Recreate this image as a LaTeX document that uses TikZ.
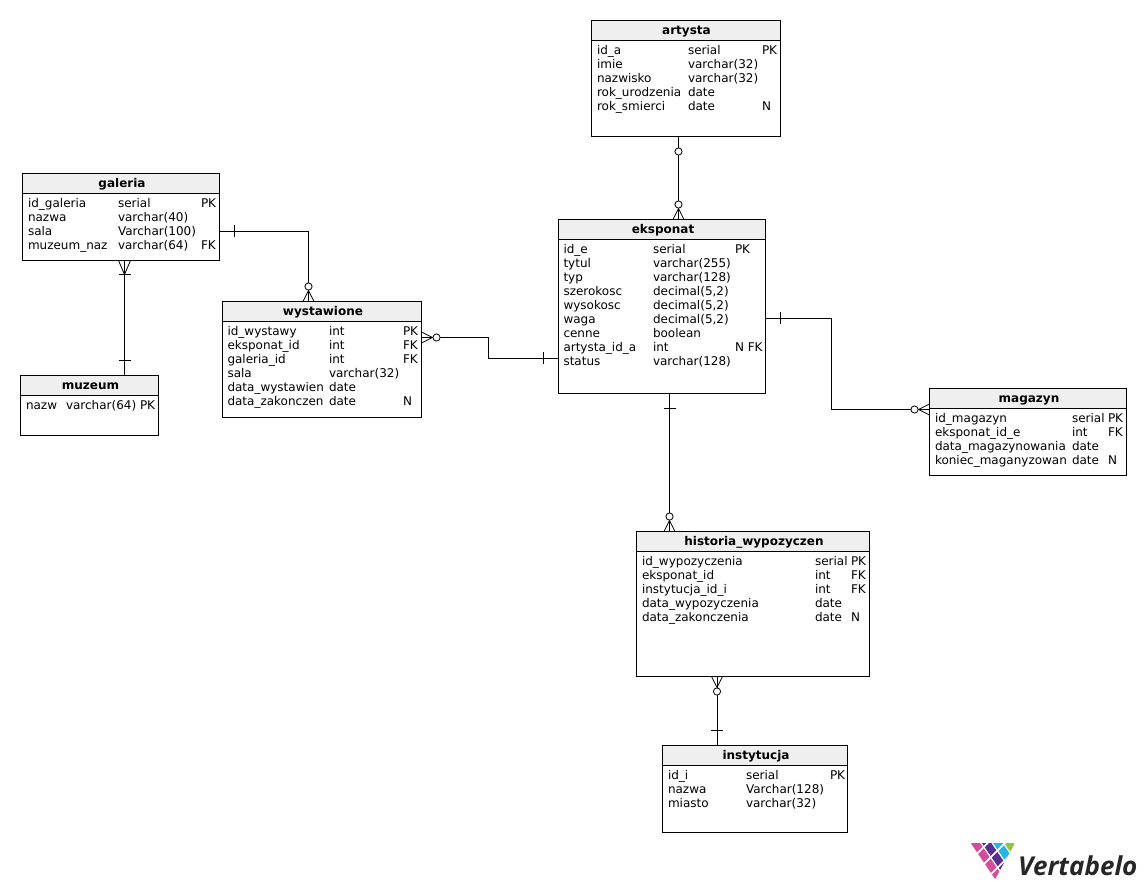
\documentclass[tikz,border=0pt]{standalone}
\usepackage{fontspec}
\setmainfont{DejaVu Sans}
\newfontfamily\logofont{Open Sans}
\definecolor{headgray}{HTML}{EFEFEF}
\definecolor{lpink}{HTML}{CF4F9B}
\definecolor{lpurple}{HTML}{5C2D91}
\definecolor{lblue}{HTML}{27B4E8}
\definecolor{lgreen}{HTML}{8DC63F}
\tikzset{
  x=1pt,y=-1pt,
  tablebox/.style={draw=black,line width=1pt,fill=white,anchor=north west,inner sep=0pt,outer sep=0pt},
  headbox/.style={draw=black,line width=1pt,fill=headgray,anchor=north west,inner sep=0pt,outer sep=0pt,text height=9pt,text depth=1pt,font=\fontsize{12}{14}\selectfont\bfseries},
  celltext/.style={anchor=base west,inner sep=0pt,outer sep=0pt,font=\fontsize{12}{14}\selectfont},
  conn/.style={draw=black,line width=1pt},
  pics/zeromany/.style={code={
    \draw[line width=.8pt] (0,-5.5)--(11,0)--(0,5.5);
    \draw[line width=.8pt] (0,0)--(11,0);
    \draw[line width=.8pt,fill=white] (15,0) circle (3.6);
  }},
  pics/zeroone/.style={code={
    \draw[line width=.8pt,fill=white] (15,0) circle (3.6);
  }},
  pics/onebar/.style={code={
    \draw[line width=.8pt] (15,-6)--(15,6);
  }},
  pics/onemany/.style={code={
    \draw[line width=.8pt] (0,-6)--(14,0)--(0,6);
    \draw[line width=.8pt] (14,-6)--(14,6);
  }},
}
\newcommand{\etable}[9]{% name,x,y,w,h,title,c1,c2,c3
  \def\tn{#1}\def\ty{#3}\def\ca{#7}\def\cb{#8}\def\cc{#9}
  \node[tablebox,minimum width=#4pt,minimum height=#5pt] (#1) at (#2,#3) {};
  \node[headbox,minimum width=#4pt,minimum height=20pt] (#1-head) at (#2,#3) {\hspace{2pt}#6};
}
\newcommand{\cellput}[4]{\def\tmp{#4}\ifx\tmp\empty\else
  \node[celltext] (\tn-#1-#2) at (#3,\ty+34+14*#1) {#4};\fi}
\newcommand{\erow}[4]{%
  \cellput{#1}{a}{\ca}{#2}\cellput{#1}{b}{\cb}{#3}\cellput{#1}{c}{\cc}{#4}}
\begin{document}
\begin{tikzpicture}
\useasboundingbox (0,0) rectangle (1146,892);

\etable{artysta}{591}{20.5}{189}{116}{artysta}{597}{688}{762}
\erow{0}{id\_a}{serial}{PK}
\erow{1}{imie}{varchar(32)}{}
\erow{2}{nazwisko}{varchar(32)}{}
\erow{3}{rok\_urodzenia}{date}{}
\erow{4}{rok\_smierci}{date}{N}

\etable{galeria}{22.5}{173.5}{197}{87}{galeria}{28}{118}{201}
\erow{0}{id\_galeria}{serial}{PK}
\erow{1}{nazwa}{varchar(40)}{}
\erow{2}{sala}{Varchar(100)}{}
\erow{3}{muzeum\_naz}{varchar(64)}{FK}

\etable{eksponat}{558.5}{219.5}{207}{174}{eksponat}{563.5}{653}{735}
\erow{0}{id\_e}{serial}{PK}
\erow{1}{tytul}{varchar(255)}{}
\erow{2}{typ}{varchar(128)}{}
\erow{3}{szerokosc}{decimal(5,2)}{}
\erow{4}{wysokosc}{decimal(5,2)}{}
\erow{5}{waga}{decimal(5,2)}{}
\erow{6}{cenne}{boolean}{}
\erow{7}{artysta\_id\_a}{int}{N FK}
\erow{8}{status}{varchar(128)}{}

\etable{wystawione}{222.5}{301.5}{199}{116}{wystawione}{227.5}{329}{403}
\erow{0}{id\_wystawy}{int}{PK}
\erow{1}{eksponat\_id}{int}{FK}
\erow{2}{galeria\_id}{int}{FK}
\erow{3}{sala}{varchar(32)}{}
\erow{4}{data\_wystawien}{date}{}
\erow{5}{data\_zakonczen}{date}{N}

\etable{muzeum}{20.5}{375.5}{138}{60}{muzeum}{26}{66}{140}
\erow{0}{nazw}{varchar(64)}{PK}

\etable{magazyn}{929.5}{388.5}{197}{87}{magazyn}{935}{1072}{1108}
\erow{0}{id\_magazyn}{serial}{PK}
\erow{1}{eksponat\_id\_e}{int}{FK}
\erow{2}{data\_magazynowania}{date}{}
\erow{3}{koniec\_maganyzowan}{date}{N}

\etable{historia}{636.5}{531.5}{233}{145}{historia\_wypozyczen}{642}{815}{851}
\erow{0}{id\_wypozyczenia}{serial}{PK}
\erow{1}{eksponat\_id}{int}{FK}
\erow{2}{instytucja\_id\_i}{int}{FK}
\erow{3}{data\_wypozyczenia}{date}{}
\erow{4}{data\_zakonczenia}{date}{N}

\etable{instytucja}{662.5}{745.5}{185}{87}{instytucja}{668}{746}{830}
\erow{0}{id\_i}{serial}{PK}
\erow{1}{nazwa}{Varchar(128)}{}
\erow{2}{miasto}{varchar(32)}{}

% connectors
\draw[conn] ([xshift=-7pt]artysta.south) coordinate (a1) -- (a1 |- eksponat.north) coordinate (a2);
\pic[rotate=-90] at (a1) {zeroone};
\pic[rotate=90] at (a2) {zeromany};

\path (galeria.east) ++(0,14) coordinate (b1);
\draw[conn] (b1) -| ([xshift=-13.5pt]wystawione.north) coordinate (b2);
\pic at (b1) {onebar};
\pic[rotate=90] at (b2) {zeromany};

\path ([xshift=3.5pt]galeria.south) coordinate (c1);
\draw[conn] (c1) -- (c1 |- muzeum.north) coordinate (c2);
\pic[rotate=-90] at (c1) {onemany};
\pic[rotate=90] at (c2) {onebar};

\path (wystawione.east) ++(0,-22) coordinate (d1);
\path (eksponat.west) ++(0,51.5) coordinate (d2);
\draw[conn] (d1) -- (488.5,337.5) -- (488.5,358) -- (d2);
\pic at (d1) {zeromany};
\pic[rotate=180] at (d2) {onebar};

\path (eksponat.east) ++(0,11.5) coordinate (e1);
\path (magazyn.west) ++(0,-22.5) coordinate (e2);
\draw[conn] (e1) -- (831.5,318) -- (831.5,409.5) -- (e2);
\pic at (e1) {onebar};
\pic[rotate=180] at (e2) {zeromany};

\path ([xshift=7.5pt]eksponat.south) coordinate (f1);
\draw[conn] (f1) -- (f1 |- historia.north) coordinate (f2);
\pic[rotate=-90] at (f1) {onebar};
\pic[rotate=90] at (f2) {zeromany};

\path ([xshift=-36pt]historia.south) coordinate (g1);
\draw[conn] (g1) -- (g1 |- instytucja.north) coordinate (g2);
\pic[rotate=-90] at (g1) {zeromany};
\pic[rotate=90] at (g2) {onebar};

% logo
\begin{scope}
  \clip (970,843) -- (1015,843) -- (993.5,882) -- cycle;
  \begin{scope}[shift={(970,843.3)}]
  \begin{scope}[x={(7pt,-10.33pt)},y={(6.67pt,6.67pt)}]
    \foreach \u/\v/\c in {
      0/0/lpink,1/0/lpink,2/0/lpink,3/0/lpink,
      0/1/lpurple,1/1/lpurple,2/1/lpurple,3/1/lpurple,
      1/2/lblue,2/2/lblue,3/2/lblue,
      1/3/lgreen,2/3/lgreen}{
      \fill[\c] ({\u+.08},{\v+.08}) -- ({\u+.92},{\v+.08}) -- ({\u+.92},{\v+.92}) -- ({\u+.08},{\v+.92}) -- cycle;
    }
  \end{scope}
  \end{scope}
\end{scope}
\node[anchor=base west,inner sep=0pt,font=\logofont\fontsize{26}{30}\selectfont\bfseries\itshape,text=black!85] (logo) at (1018,875) {Vertabelo};
\end{tikzpicture}
\end{document}
